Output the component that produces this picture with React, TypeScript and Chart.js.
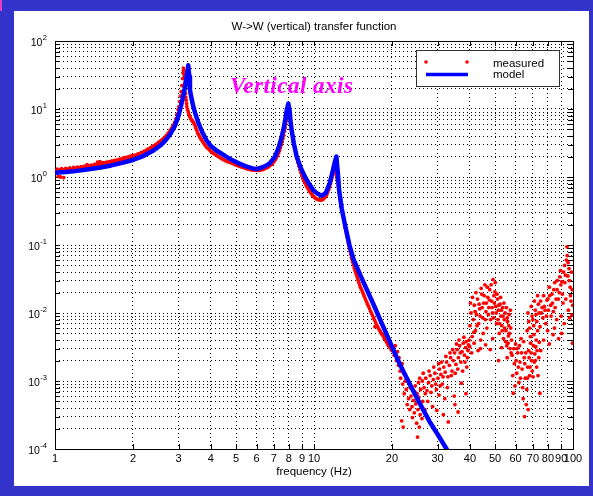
import React, { useEffect, useRef } from "react";
import { Chart, registerables } from "chart.js";

Chart.register(...registerables);

const TITLE = "W->W (vertical) transfer function";
const X_TITLE = "frequency (Hz)";
const ANNOTATION = "Vertical axis";
const LEGEND_LABELS = ["measured", "model"];

const xTickValues = [1, 2, 3, 4, 5, 6, 7, 8, 9, 10, 20, 30, 40, 50, 60, 70, 80, 90, 100];
const yDecades = [1e-4, 1e-3, 1e-2, 1e-1, 1, 10, 100];
const yDecadeExponents = ["-4", "-3", "-2", "-1", "0", "1", "2"];
const yMinorMultipliers = [2, 3, 4, 5, 6, 7, 8, 9];

// model transfer function (frequency Hz, magnitude)
const modelCurve: [number, number][] = [
  [1.0, 1.15], [1.1, 1.18], [1.2, 1.22], [1.35, 1.3], [1.5, 1.38], [1.65, 1.48], [1.8, 1.6],
  [2.0, 1.78], [2.2, 2.05], [2.4, 2.45], [2.55, 2.9], [2.66, 3.4], [2.78, 4.2], [2.9, 5.6],
  [3.0, 8.0], [3.06, 10.8], [3.12, 15], [3.16, 19], [3.21, 27], [3.25, 37], [3.27, 44],
  [3.3, 30], [3.32, 19], [3.37, 14], [3.42, 10.8], [3.5, 8.0], [3.58, 6.2], [3.7, 4.6],
  [3.84, 3.5], [4.0, 2.85], [4.2, 2.45], [4.4, 2.2], [4.6, 1.98], [4.8, 1.8], [5.1, 1.6],
  [5.4, 1.46], [5.8, 1.34], [6.0, 1.31], [6.3, 1.38], [6.6, 1.5], [6.76, 1.6], [7.07, 2.0],
  [7.3, 2.7], [7.45, 3.5], [7.61, 4.9], [7.75, 7.0], [7.85, 9.7], [7.96, 12], [8.05, 9.5],
  [8.12, 6.5], [8.2, 4.9], [8.35, 3.2], [8.57, 2.0], [8.9, 1.35], [9.23, 1.0], [9.6, 0.78],
  [9.94, 0.64], [10.3, 0.57], [10.7, 0.53], [11.1, 0.58], [11.5, 0.81], [11.8, 1.2],
  [12.0, 1.6], [12.2, 2.0], [12.35, 1.2], [12.5, 0.64], [12.8, 0.34], [13.2, 0.19],
  [13.7, 0.1], [14.2, 0.062], [15.2, 0.034], [16.0, 0.022], [17.0, 0.0132], [18.0, 0.008],
  [19.0, 0.005], [20.0, 0.0032], [21.0, 0.0021], [22.0, 0.00145], [24.0, 0.00075],
  [26.0, 0.00042], [28.0, 0.00025], [30.0, 0.000165], [32.5, 0.0001], [34.5, 0.00007],
];

// measured data below 20 Hz (follows the model closely)
const measuredLow: [number, number][] = [
  [1.0, 1.24], [1.02, 1.31], [1.04, 1.26], [1.06, 1.33], [1.08, 1.27], [1.1, 1.34], [1.12, 1.29],
  [1.14, 1.36], [1.16, 1.31], [1.18, 1.38], [1.2, 1.33], [1.22, 1.4], [1.24, 1.35], [1.26, 1.42],
  [1.28, 1.37], [1.3, 1.45], [1.32, 1.39], [1.34, 1.47], [1.36, 1.42], [1.38, 1.5], [1.4, 1.45],
  [1.42, 1.53], [1.44, 1.48], [1.46, 1.56], [1.48, 1.51], [1.5, 1.59], [1.52, 1.54], [1.54, 1.62],
  [1.56, 1.57], [1.58, 1.65], [1.6, 1.6], [1.62, 1.68], [1.64, 1.63], [1.66, 1.72], [1.68, 1.67],
  [1.7, 1.75], [1.72, 1.71], [1.74, 1.79], [1.76, 1.75], [1.78, 1.83], [1.8, 1.79], [1.82, 1.87],
  [1.84, 1.83], [1.86, 1.92], [1.88, 1.87], [1.9, 1.96], [1.92, 1.92], [1.94, 2.01], [1.96, 1.97],
  [1.98, 2.06], [2.0, 2.01], [2.03, 2.09], [2.06, 2.08], [2.09, 2.18], [2.12, 2.17], [2.15, 2.28],
  [2.18, 2.28], [2.21, 2.4], [2.24, 2.41], [2.27, 2.54], [2.3, 2.56], [2.33, 2.69], [2.36, 2.72],
  [2.39, 2.85], [2.42, 2.88], [2.45, 3.02], [2.48, 3.08], [2.51, 3.22], [2.54, 3.3], [2.57, 3.45],
  [2.6, 3.55], [2.63, 3.7], [2.66, 3.85], [2.69, 4.05], [2.72, 4.25], [2.75, 4.5], [2.78, 4.8],
  [2.81, 5.1], [2.84, 5.45], [2.87, 5.85], [2.9, 6.4], [2.93, 7.2], [2.96, 8.4], [2.99, 9.8],
  [3.01, 10.8], [3.03, 12.8], [3.05, 15.5], [3.07, 18], [3.09, 22], [3.11, 28], [3.12, 34],
  [3.13, 40], [3.14, 37], [3.15, 32], [3.16, 28], [3.17, 24], [3.18, 20], [3.19, 17], [3.2, 15],
  [3.21, 13.5], [3.22, 12], [3.23, 10.8],
  [1.46, 1.65], [1.49, 1.68], [1.52, 1.63], [1.05, 1.0], [1.08, 0.98], [1.03, 1.02], [1.33, 1.52],
  [3.25, 9.8], [3.27, 9.0], [3.29, 8.4], [3.31, 7.8], [3.34, 7.3], [3.36, 7.0], [3.38, 6.8],
  [3.4, 6.6], [3.43, 6.3], [3.45, 6.0], [3.48, 5.6], [3.5, 5.2], [3.53, 4.8], [3.56, 4.4],
  [3.59, 4.15], [3.62, 3.9], [3.65, 3.7], [3.68, 3.5], [3.72, 3.3], [3.76, 3.1], [3.8, 2.92],
  [3.85, 2.75], [3.9, 2.62], [3.95, 2.5], [4.0, 2.4], [4.05, 2.3], [4.1, 2.22], [4.15, 2.15],
  [4.21, 2.07], [4.27, 2.0], [4.33, 1.93], [4.4, 1.86], [4.47, 1.8], [4.55, 1.74], [4.62, 1.69],
  [4.7, 1.65], [4.79, 1.61], [4.88, 1.57], [4.96, 1.52], [5.05, 1.48], [5.15, 1.44], [5.25, 1.4],
  [5.35, 1.37], [5.45, 1.34], [5.55, 1.31], [5.65, 1.29], [5.75, 1.27], [5.85, 1.26],
  [5.95, 1.25], [6.05, 1.25], [6.15, 1.26], [6.25, 1.27], [6.35, 1.29], [6.45, 1.32],
  [6.55, 1.36], [6.65, 1.4], [6.75, 1.46], [6.85, 1.53], [6.93, 1.6], [7.0, 1.68], [7.08, 1.78],
  [7.15, 1.9], [7.22, 2.05], [7.3, 2.25], [7.36, 2.45], [7.42, 2.7], [7.48, 2.98], [7.54, 3.3],
  [7.59, 3.7], [7.64, 4.1], [7.69, 4.7], [7.74, 5.3], [7.78, 6.0], [7.82, 6.7], [7.86, 7.6],
  [7.9, 8.5], [7.93, 9.3], [7.96, 10], [7.99, 9.8], [8.02, 9.2], [8.05, 8.3], [8.08, 7.4],
  [8.11, 6.5], [8.14, 5.8], [8.18, 5.0], [8.22, 4.4], [8.27, 3.8], [8.32, 3.3], [8.38, 2.85],
  [8.44, 2.5], [8.51, 2.15], [8.58, 1.9], [8.66, 1.65], [8.74, 1.45], [8.82, 1.28], [8.9, 1.15],
  [8.98, 1.04], [9.06, 0.95], [9.14, 0.88], [9.22, 0.82], [9.31, 0.76], [9.4, 0.71], [9.49, 0.67],
  [9.58, 0.63], [9.67, 0.6], [9.76, 0.57], [9.85, 0.545], [9.94, 0.52], [10.03, 0.505],
  [10.12, 0.49], [10.21, 0.48], [10.3, 0.47], [10.4, 0.465], [10.5, 0.46], [10.6, 0.458],
  [10.7, 0.46], [10.8, 0.468], [10.9, 0.48], [11.0, 0.5], [11.1, 0.52], [11.2, 0.555],
  [11.3, 0.6], [11.4, 0.655], [11.5, 0.72], [11.58, 0.8], [11.65, 0.88], [11.72, 0.97],
  [11.8, 1.08], [11.86, 1.17], [11.92, 1.25], [11.98, 1.29], [12.04, 1.3], [12.1, 1.24],
  [12.16, 1.15], [12.22, 1.05], [12.28, 0.95], [12.34, 0.85], [12.4, 0.75], [12.46, 0.67],
  [12.52, 0.6], [12.58, 0.53], [12.64, 0.47], [12.7, 0.42], [12.76, 0.37], [12.83, 0.33],
  [12.9, 0.29], [12.97, 0.26], [13.05, 0.23], [13.12, 0.205], [13.2, 0.18], [13.27, 0.162],
  [13.35, 0.145], [13.42, 0.131], [13.5, 0.118], [13.57, 0.107], [13.65, 0.097], [13.72, 0.088],
  [13.8, 0.08], [13.87, 0.073], [13.95, 0.066], [14.02, 0.061], [14.1, 0.056], [14.2, 0.051],
  [14.3, 0.046], [14.4, 0.042], [14.5, 0.039], [14.6, 0.036], [14.7, 0.033], [14.8, 0.0305],
  [14.9, 0.028], [15.0, 0.026], [15.1, 0.024], [15.22, 0.0225], [15.35, 0.021], [15.47, 0.0195],
  [15.6, 0.018], [15.72, 0.0167], [15.85, 0.0155], [15.97, 0.0145], [16.1, 0.0135],
  [16.25, 0.0125], [16.4, 0.0115], [16.55, 0.0106], [16.7, 0.0098], [16.85, 0.0091],
  [17.0, 0.0084], [17.2, 0.0063], [17.15, 0.0078], [17.3, 0.0072], [17.45, 0.0067],
  [17.6, 0.0063], [17.75, 0.0059], [17.9, 0.0056], [18.05, 0.0053], [18.2, 0.005],
  [18.35, 0.0048], [18.5, 0.0046], [18.65, 0.0043], [18.8, 0.0041], [18.95, 0.0039],
  [19.1, 0.0037], [19.25, 0.0035], [19.4, 0.0033], [19.55, 0.0032], [19.7, 0.0031],
  [19.85, 0.0029], [20.0, 0.0028],
];

// measured data above 20 Hz (noise floor scatter)
const measuredHigh: [number, number][] = [
  [20.2, 3.0e-3], [20.4, 2.4e-3], [20.6, 3.3e-3], [20.8, 2.0e-3], [21.0, 2.7e-3], [21.2, 1.7e-3],
  [21.3, 2.2e-3], [21.5, 1.4e-3], [21.6, 1.1e-3], [21.8, 2.6e-4], [21.9, 1.8e-3], [22.0, 9.0e-4],
  [22.1, 2.1e-4], [22.2, 1.3e-3], [22.3, 6.5e-4], [22.5, 1.0e-3],
  [22.7, 7.5e-4], [22.9, 4.5e-4], [23.0, 1.0e-3], [23.2, 5.5e-4], [23.4, 3.8e-4], [23.5, 8.0e-4],
  [23.7, 6.0e-4], [23.9, 4.2e-4], [24.0, 2.9e-4], [24.2, 5.2e-4], [24.4, 3.4e-4], [24.5, 7.0e-4],
  [24.7, 4.6e-4], [24.9, 2.4e-4], [25.1, 1.5e-4], [25.2, 3.8e-4], [25.4, 5.8e-4], [25.5, 2.1e-4],
  [25.7, 3.2e-4], [25.9, 4.4e-4], [26.1, 2.8e-4], [26.3, 5.0e-4],
  [24.6, 8.5e-4], [25.0, 6.5e-4], [25.3, 9.5e-4], [25.8, 7.5e-4], [26.2, 1.0e-3], [26.6, 8.0e-4],
  [27.0, 1.1e-3], [27.3, 7.2e-4], [27.7, 9.5e-4], [28.1, 1.2e-3], [28.5, 8.5e-4], [28.9, 1.05e-3],
  [29.3, 1.3e-3], [29.7, 7.5e-4], [30.1, 1.1e-3], [30.5, 1.5e-3], [30.9, 1.25e-3], [31.3, 9.0e-4],
  [31.7, 1.6e-3], [32.1, 1.35e-3], [32.5, 1.9e-3], [32.9, 1.15e-3], [33.3, 1.7e-3], [33.7, 2.2e-3],
  [34.1, 1.4e-3], [34.5, 2.0e-3], [34.9, 2.6e-3], [35.3, 1.75e-3], [35.7, 2.9e-3], [36.1, 2.2e-3],
  [36.5, 3.3e-3], [36.9, 1.9e-3], [37.3, 2.7e-3], [37.7, 3.6e-3], [38.1, 2.4e-3], [38.5, 3.1e-3],
  [38.9, 1.6e-3], [39.3, 2.8e-3], [39.7, 4.0e-3], [29.8, 3.7e-4], [33.0, 2.5e-4], [36.0, 3.5e-4],
  [31.6, 3.2e-4], [37.1, 9.3e-4], [27.5, 5.0e-4], [34.8, 6.0e-4], [30.4, 6.2e-4], [38.6, 6.5e-4],
  [25.6, 1.1e-3], [26.4, 1.3e-3], [26.9, 6.5e-4], [27.8, 1.4e-3], [28.3, 6.8e-4], [29.0, 1.6e-3],
  [29.5, 9.0e-4], [30.3, 1.8e-3], [30.7, 8.5e-4], [31.1, 1.9e-3], [31.5, 1.15e-3], [32.3, 2.3e-3],
  [32.7, 8.0e-4], [33.5, 2.6e-3], [33.9, 1.2e-3], [34.3, 2.9e-3], [35.1, 1.3e-3], [35.5, 3.5e-3],
  [35.9, 1.5e-3], [36.3, 4.0e-3], [36.7, 2.6e-3], [37.5, 1.4e-3], [37.9, 4.4e-3], [38.3, 1.9e-3],
  [38.7, 3.8e-3], [39.1, 2.2e-3], [39.5, 3.4e-3], [28.7, 4.2e-4], [32.0, 5.5e-4], [35.0, 4.5e-4],
  [26.8, 3.8e-4],
  [40.0, 6.5e-3], [40.4, 1.0e-2], [40.8, 4.5e-3], [41.2, 8.0e-3], [41.6, 1.3e-2], [42.0, 5.5e-3],
  [42.4, 9.5e-3], [42.8, 1.6e-2], [43.2, 7.0e-3], [43.6, 1.15e-2], [44.0, 4.0e-3], [44.4, 1.9e-2],
  [44.8, 8.5e-3], [45.2, 1.4e-2], [45.7, 2.6e-2], [46.1, 1.05e-2], [46.5, 6.0e-3], [46.9, 1.7e-2],
  [47.3, 1.2e-2], [47.7, 2.2e-2], [48.1, 8.0e-3], [48.5, 1.5e-2], [48.9, 1.0e-2], [49.1, 3.1e-2],
  [49.5, 1.8e-2], [49.9, 2.05e-2], [50.3, 1.25e-2], [50.7, 7.0e-3], [51.1, 1.6e-2], [51.5, 1.1e-2],
  [51.9, 5.0e-3], [52.3, 1.35e-2], [52.7, 9.0e-3], [53.1, 6.5e-3], [53.5, 1.2e-2], [53.9, 4.2e-3],
  [54.3, 8.0e-3], [54.7, 1.0e-2], [55.1, 5.5e-3], [55.5, 3.3e-3], [55.9, 7.5e-3], [56.3, 4.6e-3],
  [56.7, 9.5e-3], [57.1, 3.0e-3], [57.5, 6.0e-3], [57.9, 4.0e-3], [39.9, 3.2e-3], [40.6, 2.6e-3],
  [41.5, 3.6e-3], [43.0, 2.8e-3], [47.9, 2.9e-3], [51.6, 2.0e-3], [55.7, 2.2e-3],
  [40.2, 1.4e-2], [40.9, 1.7e-2], [41.4, 5.2e-3], [41.9, 1.05e-2], [42.2, 2.0e-2], [42.6, 6.5e-3],
  [43.4, 1.35e-2], [43.8, 9.0e-3], [44.2, 2.3e-2], [44.6, 1.2e-2], [45.0, 5.0e-3], [45.4, 1.8e-2],
  [45.9, 8.0e-3], [46.3, 1.4e-2], [46.7, 2.4e-2], [47.1, 9.5e-3], [47.5, 1.55e-2], [48.3, 2.6e-2],
  [48.7, 1.2e-2], [49.3, 8.5e-3], [49.7, 1.4e-2], [50.1, 2.8e-2], [50.5, 1.0e-2], [50.9, 1.9e-2],
  [51.3, 8.0e-3], [51.7, 1.3e-2], [52.1, 7.0e-3], [52.5, 1.7e-2], [52.9, 1.1e-2], [53.3, 5.5e-3],
  [53.7, 9.0e-3], [54.1, 1.4e-2], [54.5, 6.0e-3], [54.9, 3.8e-3], [55.3, 1.2e-2], [55.7, 8.5e-3],
  [56.1, 3.6e-3], [56.5, 6.5e-3], [56.9, 5.0e-3], [57.3, 1.1e-2], [57.7, 2.6e-3], [43.9, 3.0e-3],
  [46.0, 3.4e-3], [49.0, 4.2e-3], [53.0, 3.1e-3],
  [58.2, 2.4e-3], [58.8, 6.6e-4], [59.4, 1.8e-3], [60.0, 3.5e-3], [60.6, 1.3e-3], [61.2, 2.6e-3],
  [61.8, 9.5e-4], [62.4, 1.9e-3], [63.0, 4.2e-3], [63.6, 1.5e-3], [64.2, 5.5e-4], [64.8, 2.2e-3],
  [65.0, 3.0e-4], [65.4, 1.1e-3], [66.0, 4.5e-4], [66.3, 7.5e-4], [66.8, 1.6e-3], [67.4, 2.8e-3],
  [68.0, 1.2e-3], [68.6, 3.6e-3], [69.2, 2.0e-3], [70.1, 1.15e-3], [70.6, 4.8e-3], [71.2, 2.5e-3],
  [71.8, 3.2e-3], [72.4, 1.6e-3], [73.0, 5.5e-3], [73.8, 2.2e-3], [74.5, 6.6e-4],
  [58.5, 1.2e-3], [59.1, 3.0e-3], [59.7, 8.5e-4], [60.3, 2.0e-3], [60.9, 3.0e-3], [61.5, 1.6e-3],
  [62.1, 3.3e-3], [62.7, 1.1e-3], [63.3, 2.6e-3], [63.9, 8.0e-4], [64.5, 3.8e-3], [65.1, 1.8e-3],
  [65.7, 2.6e-3], [66.6, 1.1e-3], [67.1, 3.8e-4], [67.7, 2.2e-3], [68.3, 1.6e-3], [68.9, 2.6e-3],
  [69.6, 1.4e-3], [70.3, 3.3e-3], [70.9, 1.9e-3], [71.5, 2.0e-3], [72.1, 4.0e-3], [72.7, 2.8e-3],
  [73.3, 1.2e-3], [74.1, 3.7e-3],
  [66.5, 5.5e-3], [67.5, 7.5e-3], [68.5, 4.5e-3], [69.5, 9.0e-3], [70.5, 6.5e-3], [71.5, 1.1e-2],
  [72.5, 7.5e-3], [73.5, 1.35e-2], [74.6, 6.3e-3], [75.5, 1.0e-2], [76.5, 8.5e-3], [77.5, 1.25e-2],
  [78.5, 7.0e-3], [79.3, 1.55e-2], [80.3, 1.1e-2], [81.3, 1.8e-2], [82.3, 9.0e-3], [83.3, 1.4e-2],
  [84.3, 2.2e-2], [85.3, 1.2e-2], [86.8, 2.2e-2], [87.8, 1.6e-2], [88.9, 3.4e-2], [89.8, 2.6e-2],
  [90.4, 5.0e-3], [91.0, 1.9e-2], [92.0, 4.0e-2], [93.0, 2.8e-2], [94.3, 6.0e-2], [94.8, 9.4e-2],
  [95.5, 3.5e-2], [96.5, 4.5e-2], [97.5, 2.4e-2], [98.2, 1.5e-2], [99.0, 9.4e-3], [99.5, 3.6e-3],
  [96.0, 1.1e-2], [92.5, 7.0e-3], [88.0, 4.2e-3], [84.8, 6.0e-3], [81.0, 3.5e-3], [77.0, 4.0e-3],
  [75.0, 2.8e-3],
  [67.0, 1.0e-2], [68.0, 6.0e-3], [69.0, 1.25e-2], [70.0, 8.0e-3], [71.0, 1.5e-2], [72.0, 9.5e-3],
  [73.0, 1.8e-2], [74.0, 1.0e-2], [75.0, 1.5e-2], [76.0, 1.2e-2], [77.0, 1.8e-2], [78.0, 1.1e-2],
  [79.0, 9.0e-3], [80.0, 1.6e-2], [81.0, 2.4e-2], [82.0, 1.3e-2], [83.0, 1.9e-2], [84.0, 1.05e-2],
  [85.0, 2.8e-2], [86.0, 1.6e-2], [87.0, 3.0e-2], [88.5, 2.0e-2], [89.5, 4.2e-2], [90.5, 2.9e-2],
  [91.5, 1.4e-2], [92.8, 5.0e-2], [93.5, 3.6e-2], [95.0, 7.0e-2], [95.8, 5.5e-2], [96.8, 3.0e-2],
  [97.8, 1.8e-2], [98.6, 4.0e-2], [99.3, 2.2e-2], [99.8, 1.3e-2], [97.0, 8.5e-3], [93.8, 1.6e-2],
  [90.0, 9.0e-3], [86.5, 8.0e-3], [83.8, 4.8e-3], [79.8, 5.5e-3],
];

const SANS = '"Liberation Sans", Arial, Helvetica, sans-serif';

export default function App() {
  const ref = useRef<HTMLCanvasElement>(null);

  useEffect(() => {
    const canvas = ref.current;
    if (!canvas) return;

    const yTickValues: number[] = [];
    yDecades.forEach((d, i) => {
      yTickValues.push(d);
      if (i < yDecades.length - 1) yMinorMultipliers.forEach((m) => yTickValues.push(d * m));
    });

    const decorations = {
      id: "matlabDecor",
      beforeDatasetsDraw(chart: any) {
        const { ctx, chartArea: a, scales } = chart;
        const xs = scales.x;
        const ys = scales.y;
        ctx.save();
        ctx.strokeStyle = "#000";
        ctx.lineWidth = 1;
        ctx.setLineDash([]);
        ctx.beginPath();
        xs.ticks.forEach((t: any) => {
          const px = Math.round(xs.getPixelForValue(t.value)) + 0.5;
          ctx.moveTo(px, a.bottom);
          ctx.lineTo(px, a.bottom - 5);
          ctx.moveTo(px, a.top);
          ctx.lineTo(px, a.top + 5);
        });
        ys.ticks.forEach((t: any) => {
          const py = Math.round(ys.getPixelForValue(t.value)) + 0.5;
          ctx.moveTo(a.left, py);
          ctx.lineTo(a.left + 5, py);
          ctx.moveTo(a.right, py);
          ctx.lineTo(a.right - 5, py);
        });
        ctx.stroke();
        ctx.strokeRect(
          Math.round(a.left) + 0.5,
          Math.round(a.top) + 0.5,
          Math.round(a.right - a.left),
          Math.round(a.bottom - a.top)
        );
        ctx.restore();
      },
      afterDatasetsDraw(chart: any) {
        const { ctx, chartArea: a } = chart;
        ctx.save();
        const lx = a.right - 157;
        const ly = a.top + 9;
        const lw = 143;
        const lh = 36;
        ctx.fillStyle = "#fff";
        ctx.fillRect(lx, ly, lw, lh);
        ctx.strokeStyle = "#333";
        ctx.lineWidth = 1;
        ctx.strokeRect(lx + 0.5, ly + 0.5, lw, lh);
        ctx.fillStyle = "#ff0000";
        [lx + 10, lx + 51].forEach((x) => {
          ctx.beginPath();
          ctx.arc(x, ly + 12, 1.8, 0, Math.PI * 2);
          ctx.fill();
        });
        ctx.strokeStyle = "#0000ff";
        ctx.lineWidth = 3.5;
        ctx.beginPath();
        ctx.moveTo(lx + 10, ly + 24.5);
        ctx.lineTo(lx + 52, ly + 24.5);
        ctx.stroke();
        ctx.fillStyle = "#000";
        ctx.font = `11.5px ${SANS}`;
        ctx.textAlign = "left";
        ctx.textBaseline = "alphabetic";
        ctx.fillText(LEGEND_LABELS[0], lx + 77, ly + 16.5);
        ctx.fillText(LEGEND_LABELS[1], lx + 77, ly + 28);
        ctx.restore();
      },
      afterDraw(chart: any) {
        const { ctx, chartArea: a, scales } = chart;
        const xs = scales.x;
        const ys = scales.y;
        ctx.save();
        const cx = (a.left + a.right) / 2;
        ctx.fillStyle = "#000";
        ctx.font = `11.5px ${SANS}`;
        ctx.textAlign = "center";
        ctx.textBaseline = "alphabetic";
        ctx.fillText(TITLE, cx, a.top - 11.5);
        ctx.fillText(X_TITLE, cx, a.bottom + 26);

        yDecades.forEach((d, i) => {
          const py = ys.getPixelForValue(d);
          const exp = yDecadeExponents[i];
          ctx.font = `7.5px ${SANS}`;
          const ew = ctx.measureText(exp).width;
          const right = a.left - 8;
          ctx.textAlign = "left";
          ctx.fillText(exp, right - ew, py - 1);
          ctx.font = `10.5px ${SANS}`;
          ctx.textAlign = "right";
          ctx.fillText("10", right - ew - 0.5, py + 4.5);
        });

        ctx.fillStyle = "#ff00ff";
        ctx.font = `italic bold 23px "Liberation Serif", "Times New Roman", serif`;
        ctx.textAlign = "left";
        try {
          (ctx as any).letterSpacing = "0.5px";
        } catch (e) {
          /* ignore */
        }
        ctx.fillText(ANNOTATION, xs.getPixelForValue(4.74), ys.getPixelForValue(17));
        ctx.restore();
      },
    };

    const chart = new Chart(canvas, {
      type: "scatter",
      data: {
        datasets: [
          {
            type: "line",
            label: LEGEND_LABELS[1],
            data: modelCurve.map(([x, y]) => ({ x, y })),
            borderColor: "#0000ff",
            backgroundColor: "#0000ff",
            borderWidth: 4.5,
            borderJoinStyle: "round",
            borderCapStyle: "round",
            pointRadius: 0,
            tension: 0,
            fill: false,
            order: 0,
            clip: 0,
          } as any,
          {
            type: "scatter",
            label: LEGEND_LABELS[0],
            data: [...measuredLow, ...measuredHigh].map(([x, y]) => ({ x, y })),
            backgroundColor: "#ff0000",
            borderColor: "#ff0000",
            borderWidth: 0,
            pointRadius: 1.9,
            order: 1,
            clip: 0,
          } as any,
        ],
      },
      options: {
        responsive: false,
        animation: false,
        devicePixelRatio: 1,
        layout: { padding: { top: 30, right: 16, left: 0, bottom: 0 } },
        plugins: {
          legend: { display: false },
          title: { display: false },
          tooltip: { enabled: false },
        },
        events: [],
        scales: {
          x: {
            type: "logarithmic",
            min: 1,
            max: 100,
            afterBuildTicks: (s: any) => {
              s.ticks = xTickValues.map((v) => ({ value: v }));
            },
            afterFit: (s: any) => {
              s.height = 37;
            },
            grid: { color: "#000", lineWidth: 1, drawTicks: false },
            border: { display: false, dash: [1, 3] },
            ticks: {
              autoSkip: false,
              maxRotation: 0,
              minRotation: 0,
              padding: 3,
              color: "#000",
              font: { family: SANS, size: 11 },
              callback: (v: any) => String(v),
            },
          },
          y: {
            type: "logarithmic",
            min: 1e-4,
            max: 100,
            afterBuildTicks: (s: any) => {
              s.ticks = yTickValues.map((v) => ({ value: v }));
            },
            afterFit: (s: any) => {
              s.width = 41;
            },
            grid: { color: "#000", lineWidth: 1, drawTicks: false },
            border: { display: false, dash: [1, 3] },
            ticks: { display: false },
          },
        },
      } as any,
      plugins: [decorations],
    });

    return () => chart.destroy();
  }, []);

  return (
    <div
      style={{
        position: "fixed",
        left: 0,
        top: 0,
        width: 593,
        height: 496,
        background: "#3333cc",
        overflow: "hidden",
      }}
    >
      <div style={{ position: "absolute", left: 0, top: 0, width: 2, height: 11, background: "#e040c8" }} />
      <div
        style={{
          position: "absolute",
          left: 14,
          top: 11,
          width: 575,
          height: 475,
          background: "#ffffff",
        }}
      >
        <canvas ref={ref} width={575} height={475} style={{ display: "block", width: 575, height: 475 }} />
      </div>
    </div>
  );
}
